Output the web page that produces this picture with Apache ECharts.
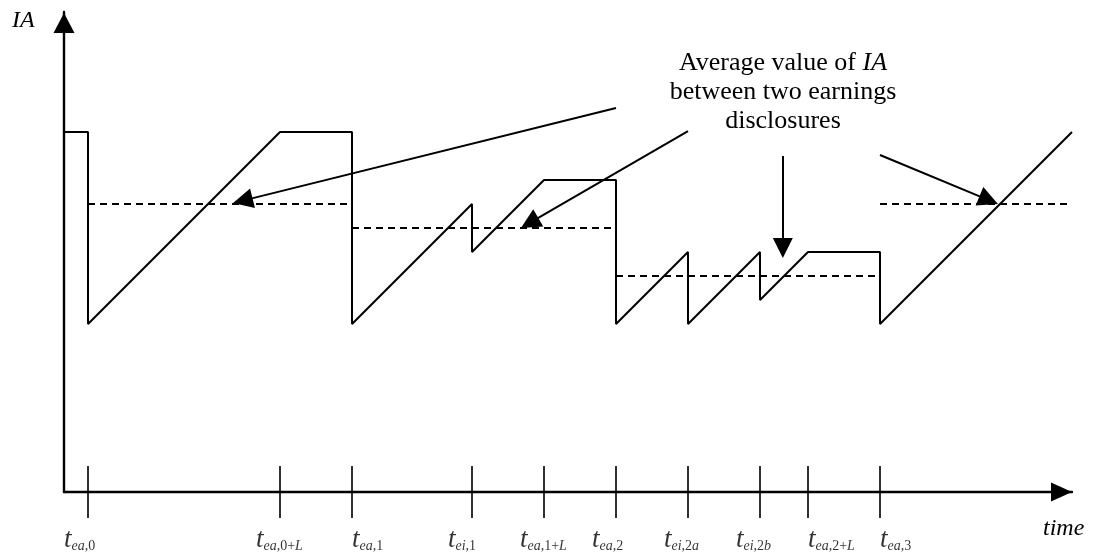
<!DOCTYPE html>
<html lang="en">
<head>
	<meta charset="UTF-8">
	<title>IA over time</title>
	<style>
		body, div {
			margin: 0;
			padding: 0;
		}
		#main {
			width: 1095px;
			height: 556px;
			background: #fff;
		}
	</style>
</head>
<body>
	<div id="main"></div>

	<script src="https://cdn.jsdelivr.net/npm/echarts@6/dist/echarts.min.js"></script>

	<script>
    // IA path (x in time units, y in IA units)
    var iaX = [0, 1, 1, 9, 12, 12, 17, 17, 20, 23, 23, 26, 26, 29, 29, 31, 34, 34, 42];
    var iaY = [15, 15, 7, 15, 15, 7, 12, 10, 13, 13, 7, 10, 7, 10, 8, 10, 10, 7, 15];

    // average IA between disclosures: [from, to, level]
    var avgFrom = [1, 12, 23, 34];
    var avgTo = [12, 23, 34, 42];
    var avgLevel = [12, 11, 9, 12];

    // time axis ticks and their labels
    var tickVals = [1, 9, 12, 17, 20, 23, 26, 29, 31, 34];
    var tickLabels = [
        '{t|t}{s|ea}{n|,0}',
        '{t|t}{s|ea}{n|,0+}{s|L}',
        '{t|t}{s|ea}{n|,1}',
        '{t|t}{s|ei}{n|,1}',
        '{t|t}{s|ea}{n|,1+}{s|L}',
        '{t|t}{s|ea}{n|,2}',
        '{t|t}{s|ei}{n|,2}{s|a}',
        '{t|t}{s|ei}{n|,2}{s|b}',
        '{t|t}{s|ea}{n|,2+}{s|L}',
        '{t|t}{s|ea}{n|,3}'
    ];

    // annotation arrows: [x0, y0, x1, y1]
    var arrows = [
        [23, 16, 7.45, 12.14],
        [26, 15.04, 19.4, 11.21],
        [29.95, 14, 29.95, 10.17],
        [34, 14.04, 38.53, 12.16]
    ];

    var serif = 'Liberation Serif';
    // labels drawn left of the tick, except these
    var labelShift = [-24, -24, 0, -24, -24, -24, -24, -24, 0, 0];

    var chart = echarts.init(document.getElementById('main'));

    var series = [];

    series.push({
        type: 'line',
        data: iaX.map(function (x, i) { return [x, iaY[i]]; }),
        symbol: 'none',
        lineStyle: { color: '#000', width: 2 },
        silent: true,
        markLine: {
            silent: true,
            symbol: ['none', 'triangle'],
            symbolSize: 20,
            label: { show: false },
            lineStyle: { color: '#000', width: 2, type: 'solid' },
            itemStyle: { color: '#000' },
            emphasis: { disabled: true },
            data: arrows.map(function (a) {
                return [{ coord: [a[0], a[1]] }, { coord: [a[2], a[3]] }];
            })
        }
    });

    for (var k = 0; k < avgLevel.length; k++) {
        series.push({
            type: 'line',
            data: [[avgFrom[k], avgLevel[k]], [avgTo[k], avgLevel[k]]],
            symbol: 'none',
            silent: true,
            lineStyle: { color: '#000', width: 2, type: [7, 5] }
        });
    }

    series.push({
        type: 'scatter',
        clip: false,
        silent: true,
        symbol: 'rect',
        symbolSize: [2, 52],
        itemStyle: { color: '#000' },
        label: {
            show: true,
            position: 'bottom',
            distance: 5,
            align: 'left',
            color: '#000',
            rich: {
                t: { fontFamily: serif, fontStyle: 'italic', fontSize: 27, lineHeight: 30, verticalAlign: 'bottom', color: '#000' },
                s: { fontFamily: serif, fontStyle: 'italic', fontSize: 14, lineHeight: 16, verticalAlign: 'bottom', color: '#000' },
                n: { fontFamily: serif, fontSize: 14, lineHeight: 16, verticalAlign: 'bottom', color: '#000' }
            }
        },
        data: tickVals.map(function (v, i) {
            return {
                value: [v, 0],
                label: { formatter: tickLabels[i], offset: [labelShift[i], 0] }
            };
        })
    });

    var option = {
        animation: false,
        grid: { left: 64, right: 23, top: 12, bottom: 64 },
        xAxis: {
            type: 'value',
            min: 0,
            max: 42,
            axisLine: {
                lineStyle: { color: '#000', width: 2.4 },
                symbol: ['none', 'triangle'],
                symbolSize: [19, 21],
                symbolOffset: [0, -10.5]
            },
            axisTick: { show: false },
            axisLabel: { show: false },
            splitLine: { show: false }
        },
        yAxis: {
            type: 'value',
            min: 0,
            max: 20,
            axisLine: {
                show: true,
                lineStyle: { color: '#000', width: 2.4 },
                symbol: ['none', 'triangle'],
                symbolSize: [21, 20],
                symbolOffset: [0, -11]
            },
            axisTick: { show: false },
            axisLabel: { show: false },
            splitLine: { show: false }
        },
        graphic: [
            {
                type: 'text', x: 12, y: 21, silent: true,
                style: { text: 'IA', fontFamily: serif, fontStyle: 'italic', fontSize: 24, fill: '#000', align: 'left', verticalAlign: 'middle' }
            },
            {
                type: 'text', x: 1043, y: 529, silent: true,
                style: { text: 'time', fontFamily: serif, fontStyle: 'italic', fontSize: 24, fill: '#000', align: 'left', verticalAlign: 'middle' }
            },
            {
                type: 'text', x: 783, y: 92, silent: true,
                style: {
                    text: 'Average value of {i|IA}\nbetween two earnings\ndisclosures',
                    fontFamily: serif, fontSize: 26, lineHeight: 29, fill: '#000',
                    align: 'center', verticalAlign: 'middle',
                    rich: {
                        i: { fontFamily: serif, fontStyle: 'italic', fontSize: 26, lineHeight: 29, fill: '#000' }
                    }
                }
            }
        ],
        series: series
    };

    chart.setOption(option);
	</script>

</body>
</html>
